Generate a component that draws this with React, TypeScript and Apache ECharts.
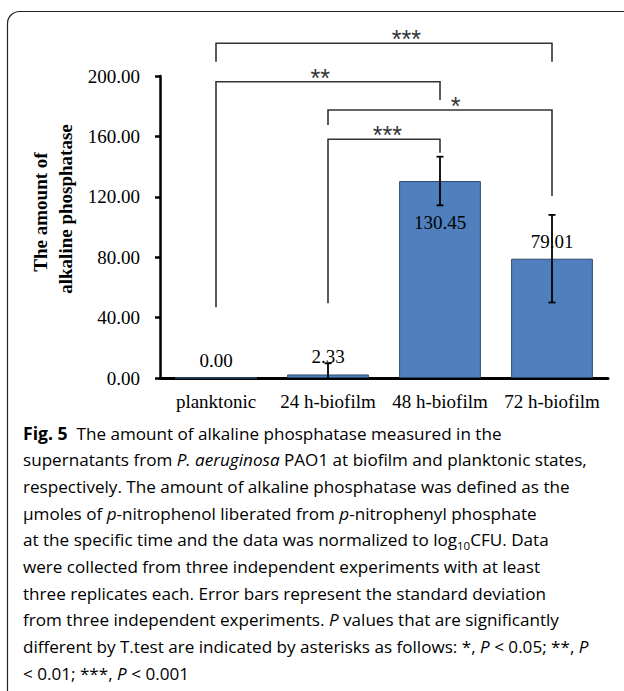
import React, { useEffect, useRef } from 'react';
import * as echarts from 'echarts';

const categories = ['planktonic', '24 h-biofilm', '48 h-biofilm', '72 h-biofilm'];
const values = [0.0, 2.33, 130.45, 79.01];
const errors = [0, 7.4, 16.1, 29.0];
const yMin = 0;
const yMax = 200;
const yInterval = 40;

// significance brackets (category indices and heights in data units)
const bracketFrom = [0, 0, 1, 1];
const bracketTo = [3, 2, 3, 2];
const bracketTop = [221.7, 196.2, 177.5, 158.1];
const bracketLeftEnd = [209.5, 46.8, 167.5, 49.5];
const bracketRightEnd = [209.5, 184.1, 120.5, 149.2];
const bracketStars = ['***', '**', '*', '***'];
const bracketStarX = [1.7, 0.93, 2.14, 1.53];

const yTitleLines = ['The amount of', 'alkaline phosphatase'];

const captionLines = [
  '{b|Fig. 5}{n|  The amount of alkaline phosphatase measured in the}',
  '{n|supernatants from }{i|P. aeruginosa}{n| PAO1 at biofilm and planktonic states,}',
  '{n|respectively. The amount of alkaline phosphatase was defined as the}',
  '{n|μmoles of }{i|p}{n|-nitrophenol liberated from }{i|p}{n|-nitrophenyl phosphate}',
  '{n|at the specific time and the data was normalized to log}{s|10}{n|CFU. Data}',
  '{n|were collected from three independent experiments with at least}',
  '{n|three replicates each. Error bars represent the standard deviation}',
  '{n|from three independent experiments. }{i|P}{n| values that are significantly}',
  '{n|different by T.test are indicated by asterisks as follows: *, }{i|P}{n| < 0.05; **, }{i|P}',
  '{n|< 0.01; ***, }{i|P}{n| < 0.001}',
];

const SERIF = '"Liberation Serif", "Times New Roman", serif';
const SANS = '"Open Sans", "Noto Sans", sans-serif';
const CAP_SIZE = 17.1;
const CAP_COLOR = '#231f20';

export default function App() {
  const ref = useRef<HTMLDivElement>(null);
  useEffect(() => {
    if (!ref.current) return;
    const chart = echarts.init(ref.current, undefined, { renderer: 'svg' });

    const captionRich = {
      n: { fontFamily: SANS, fontSize: CAP_SIZE, color: CAP_COLOR, lineHeight: 24, verticalAlign: 'middle' },
      i: { fontFamily: SANS, fontSize: CAP_SIZE, fontStyle: 'italic', color: CAP_COLOR, lineHeight: 24, verticalAlign: 'middle' },
      b: { fontFamily: SANS, fontSize: CAP_SIZE + 0.5, fontWeight: 'bold', color: CAP_COLOR, lineHeight: 24, verticalAlign: 'middle' },
      s: { fontFamily: SANS, fontSize: 11.5, color: CAP_COLOR, lineHeight: 12, verticalAlign: 'bottom' },
    };

    const graphics: any[] = [
      {
        type: 'rect',
        z: -10,
        shape: { x: 7.5, y: 11.5, width: 700, height: 720, r: 12 },
        style: { fill: 'none', stroke: '#222', lineWidth: 1.2 },
      },
      {
        type: 'text',
        x: 40,
        y: 212,
        rotation: Math.PI / 2,
        style: {
          text: yTitleLines[0],
          align: 'center',
          verticalAlign: 'middle',
          font: `bold 19px ${SERIF}`,
          fill: '#000',
        },
      },
      {
        type: 'text',
        x: 65,
        y: 209,
        rotation: Math.PI / 2,
        style: {
          text: yTitleLines[1],
          align: 'center',
          verticalAlign: 'middle',
          font: `bold 19px ${SERIF}`,
          fill: '#000',
        },
      },
      ...captionLines.map((line, k) => ({
        type: 'text',
        x: 23,
        y: 433 + k * 26.67,
        style: {
          text: line,
          align: 'left',
          verticalAlign: 'middle',
          rich: captionRich,
        },
      })),
    ];

    const option: any = {
      animation: false,
      backgroundColor: '#fff',
      grid: { left: 160, right: 16, top: 76, bottom: 313, containLabel: false },
      xAxis: {
        type: 'category',
        data: categories,
        axisLine: { show: true, lineStyle: { color: '#000', width: 3 } },
        axisTick: { show: false },
        axisLabel: { color: '#000', fontFamily: SERIF, fontSize: 19, margin: 14, interval: 0 },
      },
      yAxis: {
        type: 'value',
        min: yMin,
        max: yMax,
        interval: yInterval,
        axisLine: { show: true, lineStyle: { color: '#000', width: 2.5 } },
        axisTick: { show: true, length: 5, lineStyle: { color: '#000', width: 2.5 } },
        splitLine: { show: false },
        axisLabel: {
          color: '#000',
          fontFamily: SERIF,
          fontSize: 19,
          margin: 20,
          formatter: (v: number) => v.toFixed(2),
        },
      },
      series: [
        {
          type: 'bar',
          barCategoryGap: '27%',
          data: values.map((v, i) => ({
            value: v,
            label: i === 2 ? { position: 'insideTop', distance: 32 } : { position: 'top', distance: 8 },
          })),
          itemStyle: { color: '#4F80BD', borderColor: '#2E4A6E', borderWidth: 1 },
          label: {
            show: true,
            color: '#000',
            fontFamily: SERIF,
            fontSize: 19,
            formatter: (p: any) => Number(p.value).toFixed(2),
          },
          z: 2,
        },
        {
          type: 'custom',
          z: 5,
          clip: false,
          data: values.map((v, i) => [i, v]),
          renderItem: (params: any, api: any) => {
            const i = params.dataIndex;
            const v = values[i];
            const e = errors[i];
            if (!e) return { type: 'group', children: [] };
            const lo = Math.max(yMin, v - e);
            const hi = v + e;
            const pHi = api.coord([i, hi]);
            const pLo = api.coord([i, lo]);
            const cap = 3.5;
            const st = { stroke: '#000', lineWidth: 1.8 };
            const children: any[] = [
              { type: 'line', shape: { x1: pHi[0], y1: pHi[1], x2: pLo[0], y2: pLo[1] }, style: st },
              { type: 'line', shape: { x1: pHi[0] - cap, y1: pHi[1], x2: pHi[0] + cap, y2: pHi[1] }, style: st },
            ];
            if (v - e >= yMin) {
              children.push({ type: 'line', shape: { x1: pLo[0] - cap, y1: pLo[1], x2: pLo[0] + cap, y2: pLo[1] }, style: st });
            }
            return { type: 'group', children };
          },
        },
        {
          type: 'custom',
          z: 6,
          clip: false,
          data: bracketFrom.map((f, i) => [f, bracketTop[i]]),
          renderItem: (params: any, api: any) => {
            const i = params.dataIndex;
            const pL = api.coord([bracketFrom[i], bracketLeftEnd[i]]);
            const pT1 = api.coord([bracketFrom[i], bracketTop[i]]);
            const pT2 = api.coord([bracketTo[i], bracketTop[i]]);
            const pR = api.coord([bracketTo[i], bracketRightEnd[i]]);
            // star position: interpolate between neighbouring category centres
            const sx = bracketStarX[i];
            const k0 = Math.floor(sx);
            const c0 = api.coord([k0, bracketTop[i]]);
            const c1 = api.coord([k0 + 1, bracketTop[i]]);
            const starX = c0[0] + (sx - k0) * (c1[0] - c0[0]);
            return {
              type: 'group',
              children: [
                {
                  type: 'polyline',
                  shape: { points: [pL, pT1, pT2, pR] },
                  style: { stroke: '#333', lineWidth: 1.6, fill: 'none' },
                },
                {
                  type: 'text',
                  style: {
                    text: bracketStars[i],
                    x: starX,
                    y: c0[1] - 4,
                    align: 'center',
                    verticalAlign: 'middle',
                    font: `25px "Liberation Sans", Arial, sans-serif`,
                    fill: '#333',
                  },
                },
              ],
            };
          },
        },
      ],
      graphic: graphics,
    };

    chart.setOption(option);
    return () => chart.dispose();
  }, []);

  return (
    <div
      ref={ref}
      style={{ position: 'fixed', left: 0, top: 0, width: 624, height: 691, background: '#fff' }}
    />
  );
}
